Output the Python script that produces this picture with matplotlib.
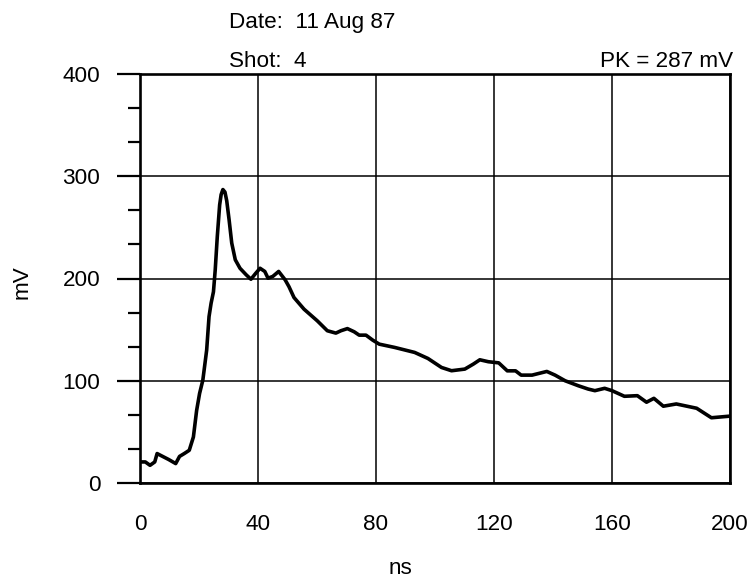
import matplotlib
matplotlib.use("Agg")
import matplotlib.pyplot as plt
from matplotlib.ticker import MultipleLocator

plt.rcParams["font.family"] = ["Liberation Sans", "DejaVu Sans"]

time_ns = [0.2, 1.8, 3.4, 5.0, 5.8, 7.0, 9.7, 12.1, 13.4, 15.0, 16.7, 18.1, 19.2,
           20.2, 21.3, 22.6, 23.4, 24.1, 24.9, 25.5, 26.2, 27.0, 27.5, 28.1, 28.8,
           29.4, 30.2, 31.1, 32.3, 33.9, 36.0, 37.6, 39.2, 40.7, 42.3, 43.4, 45.0,
           47.0, 49.2, 50.5, 52.2, 55.6, 60.1, 63.5, 66.4, 68.1, 70.3, 72.6, 74.3,
           76.6, 78.9, 81.1, 86.3, 93.1, 97.6, 102.2, 105.6, 110.1, 113.0, 115.2,
           118.1, 121.6, 124.5, 127.3, 129.2, 132.9, 137.9, 140.7, 144.1, 148.6,
           151.9, 154.2, 157.5, 160.0, 164.2, 168.6, 171.7, 174.2, 177.4, 181.8,
           188.7, 193.7, 200.0]
signal_mv = [20.6, 20.6, 17.3, 20.6, 28.8, 27.0, 23.0, 19.0, 26.0, 28.8, 32.0, 45.0, 71.0,
             87.6, 100.6, 130.0, 162.7, 175.8, 187.0, 208.5, 241.0, 272.0, 282.0, 287.0, 284.5,
             276.0, 257.5, 234.6, 218.3, 210.0, 203.6, 199.3, 205.0, 210.0, 206.9, 200.3, 202.0,
             206.9, 198.7, 192.0, 181.4, 170.0, 158.6, 148.9, 146.6, 148.9, 151.0, 147.9, 144.6,
             144.6, 139.7, 135.8, 132.6, 127.7, 121.8, 113.0, 109.8, 111.4, 116.3, 120.5,
             118.6, 117.5, 109.7, 109.7, 105.5, 105.5, 109.1, 105.5, 100.0, 95.1,
             91.9, 90.3, 92.6, 90.3, 84.8, 85.4, 79.0, 82.8, 75.1, 77.3,
             73.1, 63.8, 65.4]

date_text = "Date:  11 Aug 87"
shot_text = "Shot:  4"
peak_text = "PK = 287 mV"

W, H = 756, 585
FS = 16.2
fig = plt.figure(figsize=(W / 100, H / 100), dpi=100)
ax = fig.add_axes([140 / W, (H - 483) / H, 590 / W, 409 / H])

ax.plot(time_ns, signal_mv, color="black", linewidth=2.6,
        solid_joinstyle="round", solid_capstyle="round")

ax.set_xlim(0, 200)
ax.set_ylim(0, 400)
ax.xaxis.set_major_locator(MultipleLocator(40))
ax.yaxis.set_major_locator(MultipleLocator(100))
ax.yaxis.set_minor_locator(MultipleLocator(100 / 3))
ax.grid(True, which="major", color="black", linewidth=1.1)

for s in ax.spines.values():
    s.set_linewidth(1.9)

ax.tick_params(axis="y", which="major", direction="out", length=16.5, width=1.6,
               pad=12, labelsize=FS)
ax.tick_params(axis="y", which="minor", direction="out", length=8.5, width=1.6)
ax.tick_params(axis="x", which="major", length=0, pad=22, labelsize=FS)

fig.text(22 / W, 1 - 282 / H, "mV", rotation=90, ha="center", va="center", fontsize=FS)
fig.text(400 / W, 1 - 568 / H, "ns", ha="center", va="center", fontsize=FS)

fig.text(229 / W, 1 - 28 / H, date_text, ha="left", va="baseline", fontsize=FS)
fig.text(229 / W, 1 - 67 / H, shot_text, ha="left", va="baseline", fontsize=FS)
fig.text(733 / W, 1 - 67 / H, peak_text, ha="right", va="baseline", fontsize=FS)

fig.savefig("out.png", dpi=100)
